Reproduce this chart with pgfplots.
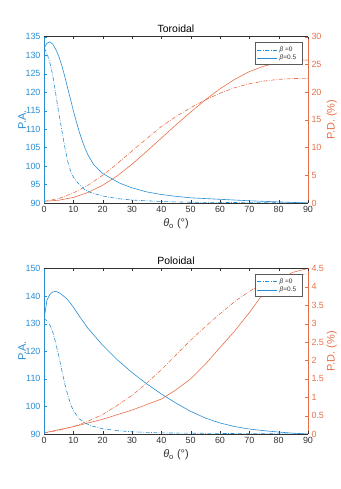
\documentclass[border=0pt]{standalone}
\usepackage{fontspec}
\setmainfont{Liberation Sans}
\usepackage{pgfplots}
\pgfplotsset{compat=1.18}

\definecolor{mblue}{RGB}{40,142,212}
\definecolor{morange}{RGB}{232,112,72}
\definecolor{mgray}{RGB}{50,50,50}
\definecolor{lgray}{RGB}{90,90,90}

\pgfplotsset{
  mstyle/.style={
    scale only axis, width=264bp, anchor=south west,
    xmin=0, xmax=90,
    tick align=inside, major tick length=2.6bp,
    /pgf/number format/assume math mode=true,
    ticklabel style={font=\fontsize{9}{10}\selectfont},
    every axis title/.style={at={(axis description cs:0.5,1)}, anchor=base, yshift=4bp,
      font=\fontsize{10.5}{12}\selectfont, text=black},
    every axis x label/.style={at={(axis description cs:0.5,0)}, yshift=-21bp, anchor=center,
      font=\fontsize{11}{12}\selectfont, text=mgray},
  },
  leftax/.style={
    mstyle,
    axis x line*=box, axis y line*=left,
    x axis line style={mgray,-}, y axis line style={mblue,-},
    xtick={0,10,...,90},
    xtick style={mgray}, ytick style={mblue},
    xticklabel style={text=mgray}, yticklabel style={text=mblue},
    every axis y label/.style={at={(axis description cs:-0.0833,0.5)}, rotate=90, anchor=center,
      font=\fontsize{11}{12}\selectfont, text=mblue},
  },
  rightax/.style={
    mstyle,
    axis x line=none, axis y line*=right,
    y axis line style={morange,-},
    xtick=\empty,
    ytick style={morange},
    yticklabel style={text=morange},
    every axis y label/.style={at={(axis description cs:1.0898,0.5)}, rotate=90, anchor=center,
      font=\fontsize{11}{12}\selectfont, text=morange},
  },
  dd/.style={dash pattern=on 4bp off 1.5bp on 0.7bp off 1.5bp},
  ln/.style={line width=0.6bp},
}
% legend box (drawn inside the left axis, over the right-axis curves)
\newcommand{\betalegend}{%
  \draw[lgray, line width=0.5bp, fill=white]
    (axis description cs:0.8004,0.833) rectangle (axis description cs:0.9784,0.964);
  \draw[mblue, line width=0.6bp, dash pattern=on 4bp off 1.5bp on 0.7bp off 1.5bp]
    (axis description cs:0.808,0.920) -- (axis description cs:0.884,0.920);
  \draw[mblue, line width=0.6bp]
    (axis description cs:0.808,0.870) -- (axis description cs:0.884,0.870);
  \node[anchor=west, inner sep=0pt, text=mgray, font=\fontsize{6.5}{7}\selectfont]
    at (axis description cs:0.892,0.920) {\textit{β} =0};
  \node[anchor=west, inner sep=0pt, text=mgray, font=\fontsize{6.5}{7}\selectfont]
    at (axis description cs:0.892,0.870) {\textit{β}=0.5};
}

\begin{document}
\begin{tikzpicture}
\path[use as bounding box] (0,0) rectangle (341bp,489bp);

%% ---------- Toroidal ----------
\begin{axis}[rightax, at={(44bp,286bp)}, height=166.3bp,
  ymin=0, ymax=30, ytick={0,5,...,30},
  ylabel={P.D. (\%)}]
\addplot[ln, morange, dd] coordinates {
 (0,0.3) (5,0.8) (10,1.8) (15,3.2) (20,5.0) (25,7.1) (30,9.4) (35,11.6) (40,13.8)
 (45,15.6) (50,17.2) (55,18.6) (60,19.8) (65,20.8) (70,21.5) (75,22.0) (80,22.3)
 (85,22.45) (90,22.5)};
\addplot[ln, morange] coordinates {
 (0,0.3) (5,0.5) (10,1.0) (15,1.9) (20,3.2) (25,4.9) (30,7.0) (35,9.3) (40,11.7)
 (45,14.1) (50,16.4) (55,18.6) (60,20.6) (65,22.3) (70,23.7) (75,24.7) (80,25.3)
 (85,25.7) (90,25.8)};
\end{axis}

\begin{axis}[leftax, at={(44bp,286bp)}, height=166.3bp,
  ymin=90, ymax=135, ytick={90,95,...,135},
  title={Toroidal}, ylabel={P.A.},
  xlabel={\textit{θ}\textsubscript{o} (°)}]
% beta = 0
\addplot[ln, mblue, dd] coordinates {
 (0,132.0) (1,130.5) (2,128.0) (3,124.5) (4,119.5) (5,114.5) (6,110.0) (7,105.5)
 (8,101.5) (9,98.8) (10,97.0) (12,95.0) (14,93.6) (16,92.8) (20,91.9) (25,91.2)
 (30,90.8) (40,90.4) (50,90.2) (70,90.1) (90,90.0)};
% beta = 0.5
\addplot[ln, mblue] coordinates {
 (0,131.9) (1,133.2) (2,133.6) (3,133.0) (4,131.6) (5,129.8) (6,127.4) (7,124.5)
 (8,121.3) (9,118.2) (10,115.0) (11,112.1) (12,109.3) (13,106.9) (14,104.8) (15,103.0)
 (17,100.3) (20,98.0) (23,96.6) (26,95.3) (30,94.1) (35,93.0) (40,92.3) (45,91.8)
 (50,91.4) (60,91.0) (70,90.6) (80,90.3) (90,90.0)};
\betalegend
\end{axis}

%% ---------- Poloidal ----------
\begin{axis}[rightax, at={(44bp,55bp)}, height=165.5bp,
  ymin=0, ymax=4.5, ytick={0,0.5,...,4.5},
  ylabel={P.D. (\%)}]
\addplot[ln, morange, dd] coordinates {
 (0,0.03) (5,0.1) (10,0.2) (15,0.35) (20,0.53) (25,0.78) (30,1.05) (35,1.38)
 (40,1.75) (45,2.15) (50,2.55) (55,2.92) (60,3.27) (65,3.6) (70,3.88) (75,4.1)
 (80,4.24) (85,4.32) (90,4.35)};
\addplot[ln, morange] coordinates {
 (0,0.03) (10,0.2) (20,0.4) (30,0.65) (40,0.95) (45,1.2) (50,1.5) (55,1.9)
 (60,2.35) (65,2.8) (70,3.3) (75,3.85) (80,4.2) (85,4.4) (90,4.5)};
\end{axis}

\begin{axis}[leftax, at={(44bp,55bp)}, height=165.5bp,
  ymin=90, ymax=150, ytick={90,100,...,150},
  title={Poloidal}, ylabel={P.A.},
  xlabel={\textit{θ}\textsubscript{o} (°)}]
\addplot[ln, mblue, dd] coordinates {
 (0,132.0) (1,131.0) (2,129.5) (3,127.0) (4,123.0) (5,118.5) (6,113.5) (7,108.5)
 (8,104.5) (9,101.0) (10,98.5) (12,95.5) (14,94.0) (16,93.0) (20,91.9) (25,91.2)
 (30,90.8) (40,90.4) (60,90.2) (90,90.0)};
\addplot[ln, mblue] coordinates {
 (0,131.5) (1,138.5) (2,140.6) (3,141.5) (4,141.7) (5,141.3) (6,140.6) (8,138.8)
 (10,136.0) (12,132.8) (15,128.3) (20,122.2) (25,116.9) (30,112.3) (35,108.2)
 (40,104.5) (45,101.2) (50,98.2) (55,95.8) (60,94.0) (65,92.7) (70,91.8) (75,91.2)
 (80,90.7) (85,90.3) (90,90.0)};
\betalegend
\end{axis}
\end{tikzpicture}
\end{document}
